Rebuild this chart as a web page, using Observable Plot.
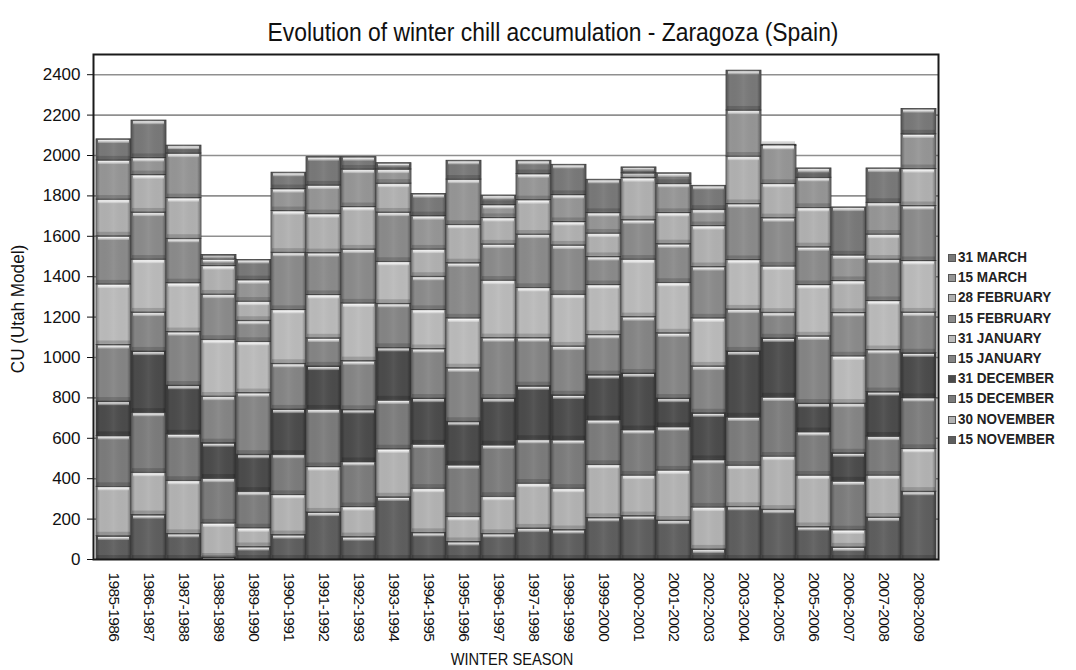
<!DOCTYPE html>
<html><head><meta charset="utf-8">
<script src="https://cdn.jsdelivr.net/npm/d3@7"></script>
<script src="https://cdn.jsdelivr.net/npm/@observablehq/plot@0.6"></script>
<style>
body{margin:0;background:#fff;}
#wrap{position:relative;width:1076px;height:670px;overflow:hidden;color:#111;}
#wrap svg{position:absolute;left:0;top:0;}
.title{position:absolute;left:0;top:17px;width:1106px;text-align:center;font-family:"Liberation Sans",Arial,sans-serif;font-size:26px;color:#111;transform:scaleX(0.88);transform-origin:553px 50%;}
.ylab{position:absolute;left:18px;top:309px;transform:translate(-50%,-50%) rotate(-90deg) scaleX(0.9);white-space:nowrap;font-family:"Liberation Sans",Arial,sans-serif;font-size:19px;color:#111;}
.xlab{position:absolute;left:512px;top:660px;transform:translate(-50%,-50%) scaleX(0.86);white-space:nowrap;font-family:"Liberation Sans",Arial,sans-serif;font-size:17px;color:#111;}
.legend{position:absolute;left:948px;top:247px;font-family:"Liberation Sans",Arial,sans-serif;font-size:15px;font-weight:bold;color:#222;}
.legend div{height:20.2px;line-height:20.2px;white-space:nowrap;}
.legend span.txt{display:inline-block;transform:scaleX(0.9);transform-origin:0 50%;}
.legend span.sw{display:inline-block;width:8px;height:8px;margin-right:2px;border:1px solid #555;box-sizing:border-box;vertical-align:0px;}
#wrap svg [aria-label^="y-axis"] text{font-family:"Liberation Sans",Arial,sans-serif;font-size:17px;fill:#111;}
#wrap svg [aria-label^="x-axis"] text{font-family:"Liberation Sans",Arial,sans-serif;font-size:15.5px;letter-spacing:-0.6px;fill:#111;}
</style></head><body><div id="wrap"></div>
<script>
const seasons = ["1985-1986","1986-1987","1987-1988","1988-1989","1989-1990","1990-1991","1991-1992","1992-1993","1993-1994","1994-1995","1995-1996","1996-1997","1997-1998","1998-1999","1999-2000","2000-2001","2001-2002","2002-2003","2003-2004","2004-2005","2005-2006","2006-2007","2007-2008","2008-2009"];
// cumulative chill units (Utah model) reached at each date
const nov15 = [115,220,127,10,62,121,233,111,308,132,87,127,154,146,206,215,193,50,261,247,161,60,208,336];
const nov30 = [360,430,390,179,155,320,458,260,546,351,211,311,376,351,469,416,441,258,465,510,416,145,416,548];
const dec15 = [612,727,620,401,336,519,743,483,788,570,467,566,593,591,690,641,656,493,704,803,631,387,609,800];
const dec31 = [782,1030,861,576,519,743,956,741,1048,797,682,797,858,813,913,921,797,724,1030,1095,772,526,829,1021];
const jan15 = [1062,1223,1126,807,824,969,1095,982,1266,1042,947,1096,1096,1055,1112,1200,1120,956,1238,1222,1105,772,1037,1223];
const jan31 = [1362,1485,1368,1088,1078,1236,1310,1268,1474,1236,1194,1381,1345,1311,1359,1485,1370,1194,1483,1451,1359,1006,1280,1478];
const feb15 = [1600,1718,1588,1312,1182,1519,1517,1535,1718,1400,1467,1560,1609,1555,1498,1680,1561,1448,1760,1690,1546,1221,1485,1750];
const feb28 = [1782,1903,1789,1453,1277,1725,1710,1745,1861,1535,1657,1691,1779,1671,1614,1888,1716,1651,1995,1860,1741,1379,1609,1933];
const mar15 = [1976,1988,2010,1486,1383,1834,1852,1931,1931,1700,1881,1755,1908,1805,1716,1912,1860,1732,2223,2048,1890,1506,1766,2105];
const mar31 = [2080,2173,2049,1507,1483,1915,1992,1992,1962,1809,1974,1802,1974,1954,1880,1941,1912,1850,2420,2053,1936,1743,1936,2230];
const periodNames = ["15 NOVEMBER","30 NOVEMBER","15 DECEMBER","31 DECEMBER","15 JANUARY","31 JANUARY","15 FEBRUARY","28 FEBRUARY","15 MARCH","31 MARCH"];
const periodColors = ["#5e5e5e","#b2b2b2","#7b7b7b","#4b4b4b","#848484","#bababa","#8a8a8a","#b0b0b0","#959595","#787878"];
const yTicks = [0,200,400,600,800,1000,1200,1400,1600,1800,2000,2200,2400];

const cumulative = [nov15,nov30,dec15,dec31,jan15,jan31,feb15,feb28,mar15,mar31];
const rows = [];
seasons.forEach((s,i)=>{
  let prev = 0;
  cumulative.forEach((arr,k)=>{
    rows.push({season:s, period:periodNames[k], y1:prev, y2:arr[i]});
    prev = arr[i];
  });
});

const chart = Plot.plot({
  width:1076, height:670,
  marginLeft:93, marginRight:138, marginTop:54, marginBottom:111,
  style:{background:"transparent", color:"#111", overflow:"visible"},
  x:{type:"band", domain:seasons, padding:0, tickRotate:90, tickSize:0, tickPadding:13, label:null},
  y:{domain:[0,2500], ticks:yTicks, tickSize:6, tickPadding:7, label:null, tickFormat:d=>String(d)},
  color:{type:"ordinal", domain:periodNames, range:periodColors},
  marks:[
    Plot.ruleY(yTicks.filter(d=>d>0), {stroke:"#8f8f8f", strokeWidth:1.6}),
    Plot.barY(rows, {x:"season", y1:"y1", y2:"y2", fill:"period", stroke:"#3a3a3a", strokeWidth:0.8}),
    Plot.barY(rows, {x:"season", y1:"y1", y2:"y2", insetLeft:0.5, insetRight:0.5, fill:"url(#sideShade)"}),
    Plot.barY(rows, {x:"season", y1:"y2", y2:"y2", insetTop:1.2, insetBottom:-4.2, insetLeft:2, insetRight:2, fill:"url(#hl)"}),
    Plot.barY(rows, {x:"season", y1:"y1", y2:"y1", insetTop:-4, insetBottom:0.6, insetLeft:1, insetRight:1, fill:"#000", fillOpacity:0.16}),
    Plot.frame({stroke:"#1a1a1a", strokeWidth:2})
  ]
});

const svg = d3.select(chart);
const defs = svg.insert("defs", ":first-child");
const side = defs.append("linearGradient").attr("id","sideShade").attr("x1",0).attr("x2",1).attr("y1",0).attr("y2",0);
[[0,"#000",0.28],[0.1,"#000",0.0],[0.5,"#fff",0.06],[0.9,"#000",0.0],[1,"#000",0.32]].forEach(([o,c,a])=>side.append("stop").attr("offset",o).attr("stop-color",c).attr("stop-opacity",a));
const hl = defs.append("linearGradient").attr("id","hl").attr("x1",0).attr("x2",0).attr("y1",0).attr("y2",1);
[[0,"#fff",0.95],[1,"#fff",0.2]].forEach(([o,c,a])=>hl.append("stop").attr("offset",o).attr("stop-color",c).attr("stop-opacity",a));

const wrap = document.getElementById("wrap");
wrap.appendChild(chart);

const t = document.createElement("div"); t.className="title";
t.textContent = "Evolution of winter chill accumulation - Zaragoza (Spain)";
wrap.appendChild(t);
const yl = document.createElement("div"); yl.className="ylab"; yl.textContent="CU (Utah Model)"; wrap.appendChild(yl);
const xl = document.createElement("div"); xl.className="xlab"; xl.textContent="WINTER SEASON"; wrap.appendChild(xl);
const lg = document.createElement("div"); lg.className="legend";
periodNames.slice().reverse().forEach((name)=>{
  const k = periodNames.indexOf(name);
  const row = document.createElement("div");
  const sw = document.createElement("span"); sw.className="sw"; sw.style.background = periodColors[k];
  const tx = document.createElement("span"); tx.className="txt"; tx.textContent = name;
  row.appendChild(sw);
  row.appendChild(tx);
  lg.appendChild(row);
});
wrap.appendChild(lg);
</script></body></html>
